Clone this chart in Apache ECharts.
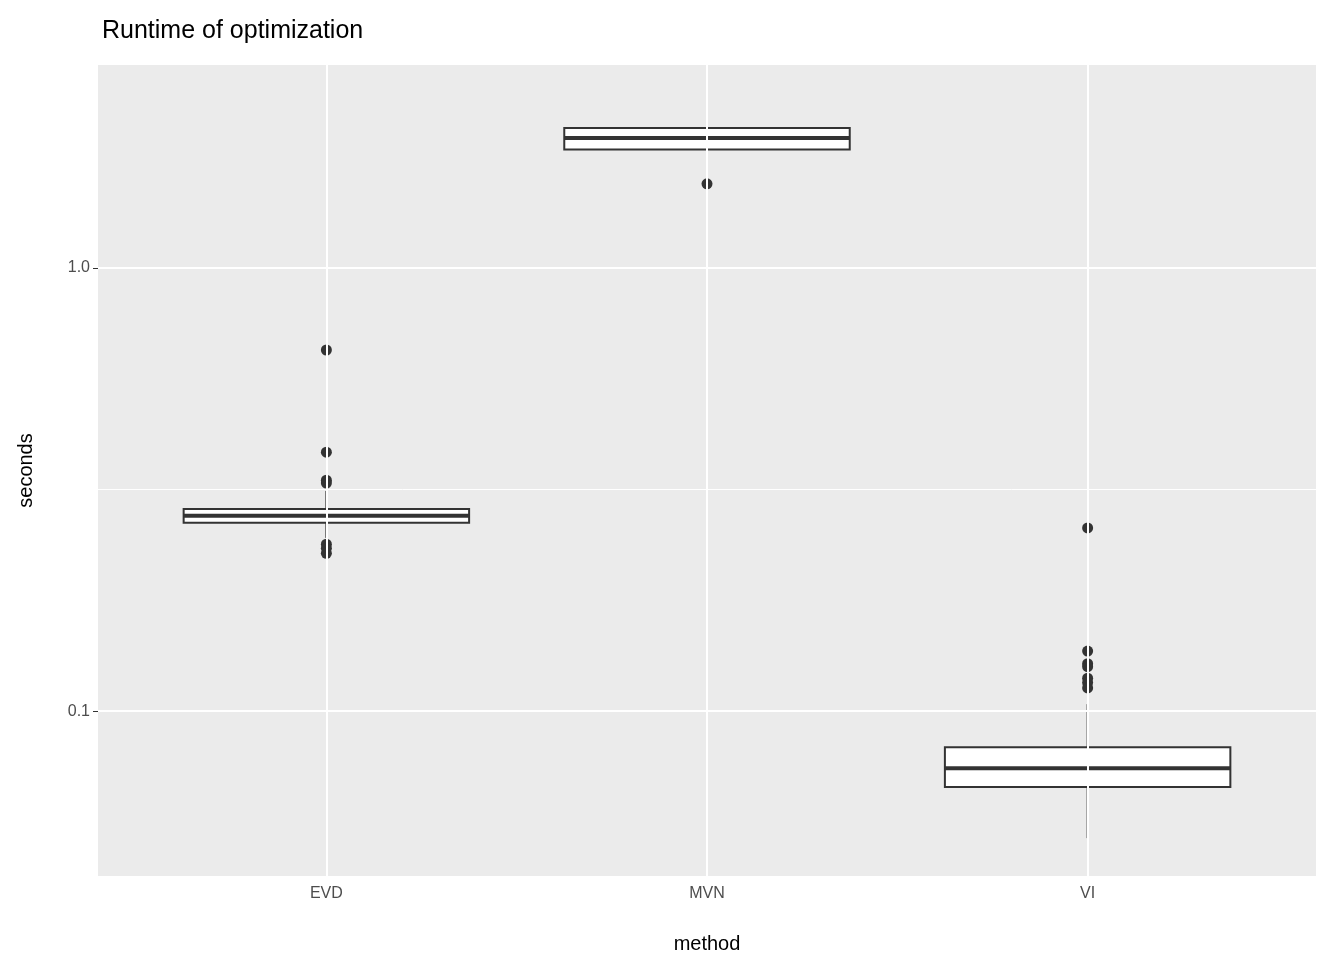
<!DOCTYPE html>
<html>
<head>
<meta charset="utf-8">
<script src="https://cdn.jsdelivr.net/npm/echarts@6/dist/echarts.min.js"></script>
<style>html,body{margin:0;padding:0;background:#fff}#main{width:1344px;height:960px}</style>
</head>
<body>
<div id="main"></div>
<script>
var categories = ['EVD', 'MVN', 'VI'];
// [lower whisker, Q1, median, Q3, upper whisker] in seconds
var boxEVD = [0.246, 0.266, 0.276, 0.286, 0.314];
var boxMVN = [1.60, 1.85, 1.965, 2.07, 2.37];
var boxVI = [0.0517, 0.0674, 0.0743, 0.0829, 0.1037];
var outEVD = [0.653, 0.384, 0.332, 0.327, 0.238, 0.233, 0.227];
var outMVN = [1.548];
var outVI = [0.259, 0.1366, 0.128, 0.126, 0.1187, 0.116, 0.1128];
var majorTicks = [0.1, 1.0];
var minorTicks = [0.316];

var lg = function (v) { return Math.log10(v); };
var boxes = [boxEVD, boxMVN, boxVI].map(function (b, i) { return [i + 1].concat(b.map(lg)); });
var outliers = [];
[outEVD, outMVN, outVI].forEach(function (arr, i) {
    arr.forEach(function (v) { outliers.push([i + 1, lg(v)]); });
});

var gridLines = [];
majorTicks.forEach(function (t) { gridLines.push({ yAxis: lg(t), lineStyle: { width: 2 } }); });
minorTicks.forEach(function (t) { gridLines.push({ yAxis: lg(t), lineStyle: { width: 1 } }); });
categories.forEach(function (c, i) { gridLines.push({ xAxis: i + 1, lineStyle: { width: 2 } }); });

function renderBox(params, api) {
    var x = api.value(0);
    var lo = api.coord([x, api.value(1)]), q1 = api.coord([x, api.value(2)]),
        md = api.coord([x, api.value(3)]), q3 = api.coord([x, api.value(4)]),
        hi = api.coord([x, api.value(5)]);
    var half = api.size([0.75, 0])[0] / 2;
    var cx = lo[0];
    var st = { stroke: '#333', lineWidth: 2, fill: null };
    return { type: 'group', children: [
        { type: 'line', shape: { x1: cx, y1: hi[1], x2: cx, y2: q3[1] }, style: st },
        { type: 'line', shape: { x1: cx, y1: q1[1], x2: cx, y2: lo[1] }, style: st },
        { type: 'rect', shape: { x: cx - half, y: q3[1], width: half * 2, height: q1[1] - q3[1] }, style: { stroke: '#333', lineWidth: 2, fill: '#fff' } },
        { type: 'line', shape: { x1: cx - half, y1: md[1], x2: cx + half, y2: md[1] }, style: { stroke: '#333', lineWidth: 4 } }
    ] };
}

var font = 'Liberation Sans';
var chart = echarts.init(document.getElementById('main'));
chart.setOption({
    animation: false,
    title: { text: 'Runtime of optimization', left: 97, top: 14, textStyle: { fontFamily: font, fontSize: 25, fontWeight: 'normal', color: '#000' } },
    grid: { left: 98, right: 28, top: 65, bottom: 84, show: true, backgroundColor: '#EBEBEB', borderWidth: 0 },
    xAxis: {
        type: 'value', min: 0.4, max: 3.6, name: 'method', nameLocation: 'middle', nameGap: 58,
        nameTextStyle: { fontFamily: font, fontSize: 20, color: '#000' },
        axisLine: { show: false }, splitLine: { show: false },
        axisTick: { show: true, length: 5, customValues: [1, 2, 3], lineStyle: { color: '#333' } },
        axisLabel: { customValues: [1, 2, 3], fontFamily: font, fontSize: 16, color: '#4D4D4D', margin: 10,
            formatter: function (v) { return categories[Math.round(v) - 1]; } }
    },
    yAxis: {
        type: 'value', min: -1.372, max: 0.458, name: 'seconds', nameLocation: 'middle', nameGap: 62,
        nameTextStyle: { fontFamily: font, fontSize: 20, color: '#000' },
        axisLine: { show: false }, splitLine: { show: false },
        axisTick: { show: true, length: 5, customValues: majorTicks.map(lg), lineStyle: { color: '#333' } },
        axisLabel: { customValues: majorTicks.map(lg), fontFamily: font, fontSize: 16, color: '#4D4D4D',
            formatter: function (v) { return Math.pow(10, v).toFixed(1); } }
    },
    series: [
        { type: 'line', data: [], z: 1, silent: true,
          markLine: { symbol: 'none', silent: true, label: { show: false }, lineStyle: { color: '#fff', type: 'solid' }, data: gridLines } },
        { type: 'custom', data: boxes, z: 3, renderItem: renderBox, encode: { x: 0, y: [1, 2, 3, 4, 5] } },
        { type: 'scatter', data: outliers, z: 4, symbolSize: 11, itemStyle: { color: '#333', opacity: 1 } }
    ]
});
</script>
</body>
</html>
